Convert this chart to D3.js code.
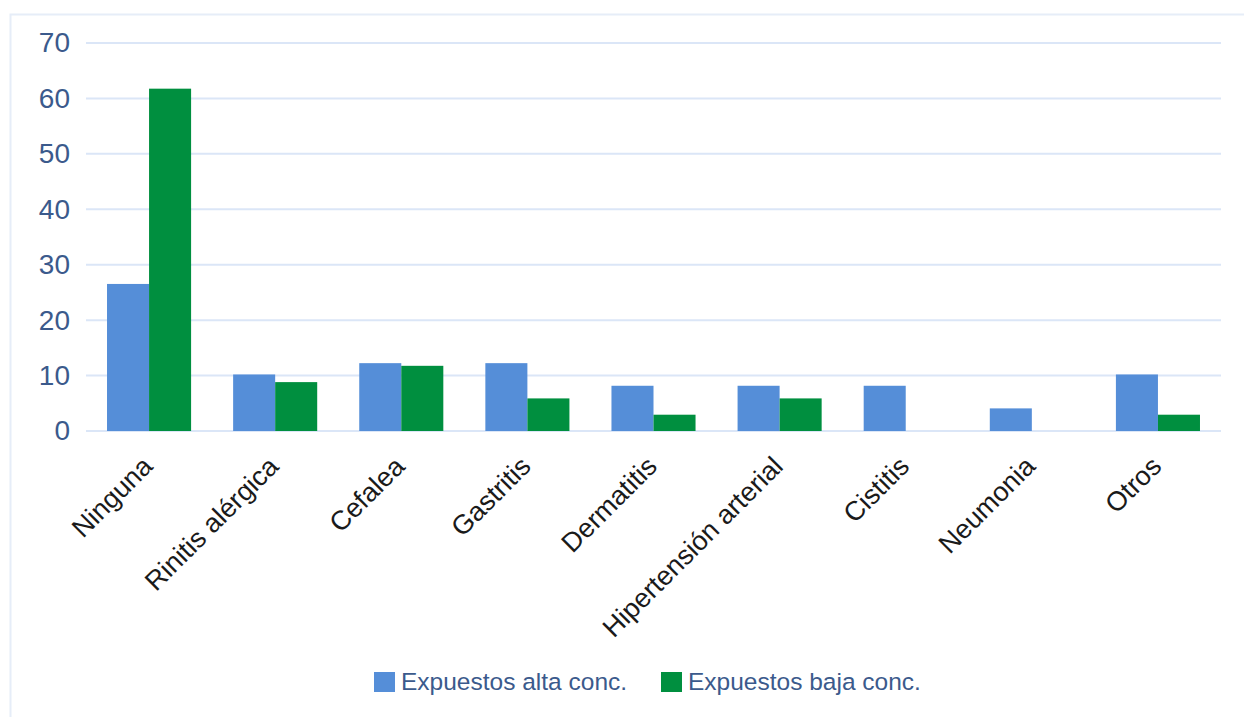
<!DOCTYPE html>
<html><head><meta charset="utf-8">
<script src="https://cdn.jsdelivr.net/npm/d3@7"></script>
<style>html,body{margin:0;padding:0;background:#fff;}svg{display:block;}</style>
</head><body>
<svg id="chart" width="1244" height="717"></svg>
<script>
const categories = ["Ninguna","Rinitis alérgica","Cefalea","Gastritis","Dermatitis","Hipertensión arterial","Cistitis","Neumonia","Otros"];
const seriesNames = ["Expuestos alta conc.","Expuestos baja conc."];
const altaValues = [26.53,10.20,12.24,12.24,8.16,8.16,8.16,4.08,10.20];
const bajaValues = [61.76,8.82,11.76,5.88,2.94,5.88,0,0,2.94];
const yTicks = [0,10,20,30,40,50,60,70];
const colors = ["#558ed8","#008f3f"];

const svg = d3.select("#chart");
const W = 1244, H = 717;
const mLeft = 86, mRight = 1221, mTop = 43, mBottom = 431;
const FONT = "Liberation Sans, Arial, sans-serif";

// frame
svg.append("path").attr("d", `M10.5,${H} V14.5 H${W}`).attr("fill","none").attr("stroke","#e6edf8").attr("stroke-width",2);

const x = d3.scaleBand().domain(categories).range([mLeft,mRight]).paddingInner(1/3).paddingOuter(1/6);
const x1 = d3.scaleBand().domain(seriesNames).range([0,x.bandwidth()]);
const y = d3.scaleLinear().domain([0,70]).range([mBottom,mTop]);

// grid
const yAxis = d3.axisLeft(y).tickValues(yTicks).tickSize(0).tickPadding(16).tickFormat(d3.format("d"));
const gy = svg.append("g").attr("transform",`translate(${mLeft},0)`).call(yAxis);
gy.select(".domain").remove();
gy.selectAll("text").attr("font-family",FONT).attr("font-size",28).attr("fill","#3b5a8c");
svg.append("g").selectAll("line").data(yTicks).join("line")
  .attr("x1",mLeft).attr("x2",mRight).attr("y1",d=>y(d)).attr("y2",d=>y(d))
  .attr("stroke","#dbe6f7").attr("stroke-width",2);

// bars
const data = categories.map((c,i)=>({cat:c, vals:[altaValues[i],bajaValues[i]]}));
const groups = svg.append("g").selectAll("g").data(data).join("g").attr("transform",d=>`translate(${x(d.cat)},0)`);
groups.selectAll("rect").data(d=>d.vals.map((v,j)=>({name:seriesNames[j],v,j}))).join("rect")
  .attr("x",d=>x1(d.name)).attr("width",x1.bandwidth())
  .attr("y",d=>y(d.v)).attr("height",d=>y(0)-y(d.v))
  .attr("fill",d=>colors[d.j]);

// x axis labels
const xAxis = d3.axisBottom(x).tickSize(0).tickPadding(0);
const gx = svg.append("g").attr("transform",`translate(0,${mBottom})`).call(xAxis);
gx.select(".domain").remove();
gx.selectAll("text")
  .attr("font-family",FONT).attr("font-size",27).attr("fill","#1a1a1a")
  .attr("text-anchor","end").attr("dy",null).attr("y",null)
  .attr("transform","translate(5,37) rotate(-45)");

// legend
const legendX = [374, 661];
const lg = svg.append("g").selectAll("g").data(seriesNames).join("g").attr("transform",(d,i)=>`translate(${legendX[i]},672)`);
lg.append("rect").attr("width",21).attr("height",20).attr("fill",(d,i)=>colors[i]);
lg.append("text").attr("x",27).attr("y",18).text(d=>d)
  .attr("font-family",FONT).attr("font-size",24.5).attr("fill","#3b5a8c");
</script>
</body></html>
